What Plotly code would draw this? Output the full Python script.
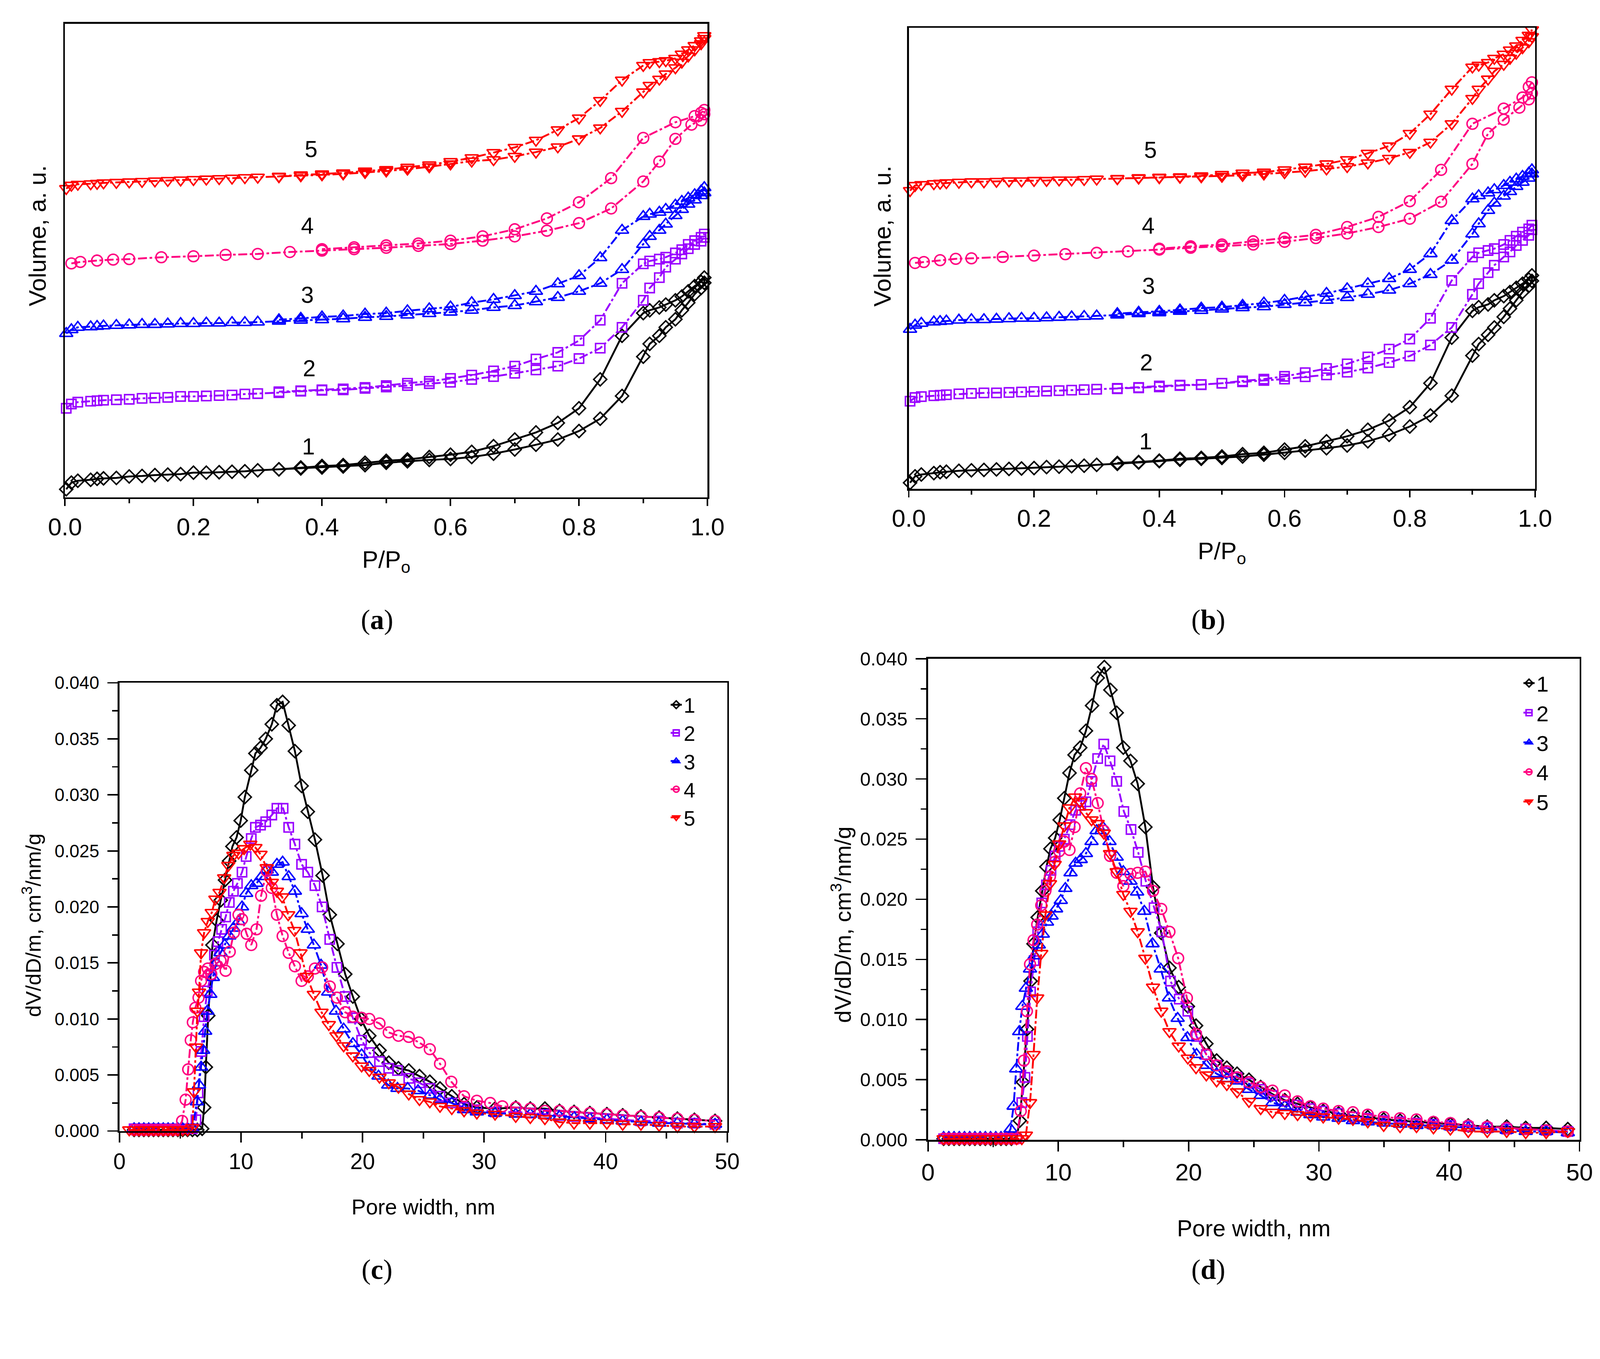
import plotly.graph_objects as go

# ---- (a), (b): N2 isotherms, relative pressure grids ----
P_ADS = [0.002, 0.01, 0.02, 0.04, 0.05, 0.06, 0.08, 0.10, 0.12, 0.14, 0.16, 0.18, 0.20, 0.22, 0.24,
	0.26, 0.28, 0.30, 0.333, 0.367, 0.40, 0.433, 0.467, 0.50, 0.533, 0.567, 0.60, 0.633, 0.667, 0.70,
	0.733, 0.767, 0.80, 0.833, 0.867, 0.90, 0.91, 0.925, 0.935, 0.95, 0.96, 0.97, 0.98, 0.99, 0.995]
P_DES = [0.995, 0.99, 0.98, 0.97, 0.96, 0.95, 0.935, 0.925, 0.91, 0.90, 0.867, 0.833, 0.80, 0.767,
	0.733, 0.70, 0.667, 0.633, 0.60, 0.567, 0.533, 0.50, 0.467, 0.433, 0.40, 0.367, 0.333]
P4_ADS = [0.01, 0.024, 0.05, 0.075, 0.10, 0.15, 0.20, 0.25, 0.30, 0.35, 0.40, 0.45, 0.50, 0.55, 0.60,
	0.65, 0.70, 0.75, 0.80, 0.85, 0.90, 0.925, 0.95, 0.975, 0.99, 0.995]
P4_DES = [0.995, 0.99, 0.98, 0.95, 0.90, 0.85, 0.80, 0.75, 0.70, 0.65, 0.60, 0.55, 0.50, 0.45, 0.40]

# panel (a), volume in arbitrary units (curves offset)
A1_ADS = [1.7, 3.1, 3.5, 3.7, 3.9, 4.0, 4.1, 4.4, 4.5, 4.7, 4.8, 4.9, 5.2, 5.2, 5.3, 5.4, 5.5, 5.7,
	5.9, 6.1, 6.3, 6.5, 6.8, 7.3, 7.6, 7.9, 8.1, 8.5, 9.2, 10.1, 11.1, 12.2, 14.0, 16.6, 21.4, 29.7,
	32.4, 34.1, 35.9, 37.6, 39.5, 41.1, 42.9, 44.2, 45.3]
A1_DES = [46.4, 45.5, 44.6, 43.5, 42.4, 41.6, 40.7, 40.1, 39.5, 38.9, 34.1, 24.9, 18.8, 15.7, 13.7,
	12.2, 10.8, 9.6, 9.0, 8.5, 8.0, 7.7, 7.3, 6.8, 6.6, 6.3, 5.9]
A2_ADS = [18.8, 19.7, 20.1, 20.3, 20.4, 20.5, 20.6, 20.7, 20.9, 21.0, 21.1, 21.3, 21.3, 21.4, 21.5,
	21.6, 21.8, 21.9, 22.1, 22.4, 22.6, 22.7, 23.0, 23.3, 23.6, 24.0, 24.3, 24.9, 25.5, 26.2, 26.9,
	27.7, 29.3, 31.5, 35.9, 41.6, 44.2, 46.4, 48.6, 50.3, 51.4, 52.5, 53.4, 54.1, 54.9]
A2_DES = [55.6, 54.9, 54.2, 53.4, 52.3, 51.6, 50.7, 50.3, 49.9, 49.3, 45.2, 37.4, 33.1, 30.6, 29.2,
	27.7, 26.7, 25.8, 25.1, 24.5, 24.1, 23.6, 23.2, 22.9, 22.7, 22.5, 22.3]
A3_ADS = [34.6, 35.4, 35.9, 36.0, 36.1, 36.2, 36.3, 36.4, 36.5, 36.5, 36.6, 36.7, 36.7, 36.8, 36.8,
	36.9, 36.9, 37.0, 37.2, 37.4, 37.5, 37.7, 38.0, 38.2, 38.5, 38.8, 39.1, 39.5, 40.1, 40.5, 41.3,
	42.2, 43.5, 45.2, 48.1, 53.4, 55.1, 56.4, 57.7, 59.5, 60.8, 61.9, 62.8, 63.7, 64.3]
A3_DES = [65.4, 64.7, 63.9, 63.2, 62.5, 61.7, 60.8, 60.2, 59.8, 59.3, 56.4, 50.6, 46.8, 45.1, 43.5,
	42.6, 41.8, 41.1, 40.2, 39.8, 39.4, 38.9, 38.7, 38.3, 38.1, 37.8, 37.5]
A4_ADS = [49.4, 49.7, 50.0, 50.2, 50.3, 50.7, 50.9, 51.2, 51.4, 51.8, 52.1, 52.4, 52.7, 53.1, 53.5,
	54.2, 55.1, 56.3, 57.9, 61.0, 66.7, 70.9, 75.7, 78.7, 79.6, 80.9]
A4_DES = [81.8, 81.2, 80.5, 79.2, 75.9, 67.4, 62.3, 58.9, 56.6, 55.1, 54.2, 53.6, 53.2, 52.8, 52.4]
A5_ADS = [65.2, 65.9, 66.1, 66.2, 66.3, 66.4, 66.5, 66.6, 66.7, 66.8, 66.9, 67.0, 67.1, 67.2, 67.3,
	67.4, 67.5, 67.6, 67.7, 67.9, 68.1, 68.3, 68.6, 68.9, 69.3, 69.8, 70.4, 71.0, 71.3, 72.0, 72.9,
	74.0, 75.7, 78.0, 81.5, 85.6, 87.0, 88.3, 89.4, 90.7, 91.9, 93.2, 94.5, 95.8, 96.9]
A5_DES = [97.5, 96.4, 95.4, 94.5, 93.6, 92.7, 92.2, 92.0, 91.8, 91.2, 88.1, 83.8, 80.1, 77.6, 75.4,
	73.9, 72.8, 71.7, 70.9, 70.2, 69.7, 69.2, 68.9, 68.5, 68.3, 68.1, 67.8]

# panel (b)
B1_ADS = [1.3, 2.7, 3.1, 3.4, 3.6, 3.7, 3.9, 4.0, 4.1, 4.2, 4.3, 4.4, 4.5, 4.7, 4.8, 4.9, 5.0, 5.2,
	5.4, 5.7, 6.0, 6.3, 6.5, 6.7, 7.0, 7.4, 7.8, 8.3, 8.8, 9.4, 10.3, 11.7, 13.5, 15.9, 20.2, 28.9,
	31.4, 33.4, 35.0, 37.3, 39.1, 40.9, 42.7, 44.0, 45.1]
B1_DES = [46.3, 45.4, 44.5, 43.6, 42.7, 41.8, 40.9, 40.0, 39.4, 38.6, 32.8, 22.9, 17.7, 14.8, 12.8,
	11.4, 10.3, 9.2, 8.5, 7.8, 7.5, 7.0, 6.7, 6.5, 6.1, 5.8, 5.6]
B2_ADS = [19.0, 19.8, 20.0, 20.2, 20.3, 20.4, 20.6, 20.7, 20.8, 20.8, 20.9, 21.0, 21.1, 21.2, 21.3,
	21.4, 21.5, 21.6, 21.7, 21.9, 22.1, 22.4, 22.6, 22.9, 23.2, 23.5, 23.8, 24.3, 24.7, 25.3, 26.2,
	27.4, 28.8, 31.2, 35.0, 42.2, 44.5, 46.9, 48.5, 50.3, 51.4, 52.8, 53.9, 55.0, 56.2]
B2_DES = [57.2, 56.4, 55.7, 54.8, 53.9, 53.0, 52.1, 51.7, 51.2, 50.3, 45.2, 37.0, 32.5, 30.3, 28.6,
	27.1, 26.1, 25.2, 24.4, 23.8, 23.4, 22.9, 22.6, 22.5, 22.3, 22.0, 21.8]
B3_ADS = [34.6, 35.5, 35.9, 36.2, 36.3, 36.4, 36.6, 36.7, 36.7, 36.8, 36.9, 37.0, 37.0, 37.1, 37.2,
	37.3, 37.4, 37.5, 37.7, 38.0, 38.2, 38.5, 38.7, 39.0, 39.3, 39.5, 40.0, 40.4, 40.9, 41.5, 42.2,
	43.1, 44.5, 46.5, 49.6, 55.3, 57.5, 60.4, 62.0, 63.5, 64.5, 65.6, 66.5, 67.4, 68.3]
B3_DES = [69.2, 68.5, 67.8, 67.2, 66.5, 65.8, 64.9, 64.2, 63.6, 62.9, 58.2, 51.0, 47.6, 45.6, 44.5,
	43.4, 42.4, 41.7, 40.9, 40.3, 39.8, 39.4, 39.2, 38.8, 38.5, 38.3, 38.0]
B4_ADS = [49.0, 49.2, 49.6, 49.9, 50.0, 50.3, 50.6, 50.9, 51.2, 51.5, 51.9, 52.3, 52.6, 53.0, 53.6,
	54.4, 55.4, 56.8, 58.6, 62.3, 70.5, 77.1, 80.1, 82.7, 84.5, 85.8]
B4_DES = [88.2, 87.2, 84.9, 82.5, 79.2, 69.2, 62.4, 59.0, 56.8, 55.1, 54.4, 53.7, 53.0, 52.6, 52.1]
B5_ADS = [64.7, 65.8, 66.0, 66.2, 66.3, 66.4, 66.5, 66.6, 66.6, 66.7, 66.8, 66.8, 66.9, 66.9, 67.0,
	67.0, 67.1, 67.2, 67.3, 67.4, 67.5, 67.6, 67.7, 67.8, 68.0, 68.3, 68.6, 68.9, 69.4, 69.9, 70.7,
	71.7, 73.0, 75.2, 79.2, 84.7, 86.7, 88.9, 90.6, 92.1, 93.4, 94.5, 95.7, 97.0, 98.1]
B5_DES = [99.6, 98.4, 97.3, 96.1, 95.2, 94.3, 93.4, 92.5, 91.9, 91.5, 86.7, 81.3, 77.1, 74.4, 72.8,
	71.4, 70.5, 69.8, 69.2, 68.7, 68.5, 68.2, 67.9, 67.7, 67.6, 67.5, 67.3]

# ---- (c), (d): pore size distributions, width in nm and dV/dD/m ----
C1_W = [1.2, 1.6, 2.0, 2.4, 2.8, 3.2, 3.6, 4.0, 4.4, 4.8, 5.2, 5.6, 6.0, 6.4, 6.8, 6.96, 7.1, 7.3,
	7.65, 7.99, 8.33, 8.68, 9.02, 9.29, 9.63, 9.97, 10.31, 10.84, 11.18, 11.60, 12.03, 12.53, 12.95,
	13.42, 13.92, 14.43, 14.98, 15.49, 16.08, 16.71, 17.30, 17.93, 18.57, 19.20, 19.87, 20.55, 21.39,
	22.15, 22.95, 23.80, 24.68, 25.53, 26.37, 27.34, 28.35, 29.4, 30.9, 32.6, 33.8, 35.0, 36.2, 37.4,
	38.7, 40.1, 41.4, 42.9, 44.4, 45.9, 47.3, 49.0]
C1_V = [0.0001, 0.0001, 0.0001, 0.0001, 0.0001, 0.0001, 0.0001, 0.0001, 0.0001, 0.0001, 0.0001,
	0.0001, 0.0001, 0.0001, 0.0002, 0.0021, 0.0057, 0.0103, 0.0166, 0.0188, 0.0206, 0.0224, 0.0241,
	0.0254, 0.0262, 0.0277, 0.0298, 0.0322, 0.0337, 0.0342, 0.0350, 0.0363, 0.0380, 0.0383, 0.0362,
	0.0339, 0.0308, 0.0285, 0.0260, 0.0228, 0.0193, 0.0167, 0.0140, 0.0120, 0.0100, 0.0085, 0.0072,
	0.0061, 0.0056, 0.0054, 0.0049, 0.0044, 0.0038, 0.0031, 0.0024, 0.0021, 0.0020, 0.0021, 0.0020,
	0.0020, 0.0018, 0.0017, 0.0016, 0.0015, 0.0014, 0.0013, 0.0012, 0.0011, 0.0010, 0.0009]
C2_W = [1.2, 1.6, 2.0, 2.4, 2.8, 3.2, 3.6, 4.0, 4.4, 4.8, 5.2, 5.6, 6.0, 6.29, 6.46, 6.71, 6.96,
	7.22, 7.51, 7.81, 8.10, 8.40, 8.73, 9.03, 9.37, 9.70, 10.08, 10.42, 10.84, 11.18, 11.60, 12.03,
	12.53, 12.95, 13.46, 13.92, 14.43, 14.98, 15.49, 16.08, 16.67, 17.30, 17.89, 18.57, 19.20, 19.92,
	20.55, 21.39, 22.15, 22.87, 23.80, 24.68, 25.53, 26.37, 27.34, 28.35, 29.4, 30.9, 32.6, 33.8,
	35.0, 36.2, 37.4, 38.7, 40.1, 41.4, 42.9, 44.4, 45.9, 47.3, 49.0]
C2_V = [0.0002, 0.0002, 0.0002, 0.0002, 0.0002, 0.0002, 0.0002, 0.0002, 0.0002, 0.0002, 0.0002,
	0.0002, 0.0002, 0.0010, 0.0034, 0.0071, 0.0102, 0.0125, 0.0139, 0.0157, 0.0169, 0.0180, 0.0191,
	0.0204, 0.0214, 0.0221, 0.0231, 0.0245, 0.0261, 0.0271, 0.0273, 0.0276, 0.0282, 0.0288, 0.0288,
	0.0271, 0.0256, 0.0238, 0.0231, 0.0219, 0.0200, 0.0171, 0.0146, 0.0120, 0.0101, 0.0081, 0.0070,
	0.0062, 0.0056, 0.0054, 0.0047, 0.0043, 0.0038, 0.0031, 0.0025, 0.0021, 0.0019, 0.0017, 0.0017,
	0.0016, 0.0015, 0.0014, 0.0013, 0.0012, 0.0011, 0.0010, 0.0009, 0.0009, 0.0007, 0.0007, 0.0006]
C3_W = [1.2, 1.6, 2.0, 2.4, 2.8, 3.2, 3.6, 4.0, 4.4, 4.8, 5.2, 5.6, 6.0, 6.37, 6.54, 6.71, 6.88,
	7.05, 7.22, 7.47, 7.68, 7.97, 8.31, 8.65, 9.03, 9.37, 9.79, 10.08, 10.42, 10.84, 11.27, 11.69,
	12.11, 12.53, 12.95, 13.42, 13.92, 14.43, 14.98, 15.49, 15.99, 16.58, 17.17, 17.81, 18.44, 19.20,
	19.92, 20.55, 21.31, 22.11, 22.87, 23.71, 24.56, 25.53, 26.37, 27.34, 28.35, 29.4, 30.9, 32.6,
	33.8, 35.0, 36.2, 37.4, 38.7, 40.1, 41.4, 42.9, 44.4, 45.9, 47.3, 49.0]
C3_V = [0.0002, 0.0002, 0.0002, 0.0002, 0.0002, 0.0002, 0.0002, 0.0002, 0.0002, 0.0002, 0.0002,
	0.0002, 0.0002, 0.0026, 0.0041, 0.0057, 0.0072, 0.0089, 0.0107, 0.0122, 0.0137, 0.0150, 0.0159,
	0.0166, 0.0174, 0.0181, 0.0187, 0.0200, 0.0212, 0.0219, 0.0221, 0.0227, 0.0233, 0.0231, 0.0238,
	0.0240, 0.0227, 0.0214, 0.0194, 0.0180, 0.0166, 0.0148, 0.0124, 0.0107, 0.0091, 0.0078, 0.0068,
	0.0057, 0.0049, 0.0041, 0.0038, 0.0038, 0.0036, 0.0032, 0.0028, 0.0025, 0.0019, 0.0017, 0.0016,
	0.0015, 0.0015, 0.0014, 0.0013, 0.0012, 0.0011, 0.0010, 0.0009, 0.0008, 0.0007, 0.0007, 0.0006,
	0.0006]
C4_W = [1.2, 1.6, 2.0, 2.4, 2.8, 3.2, 3.6, 4.0, 4.4, 4.8, 5.15, 5.44, 5.65, 5.86, 6.03, 6.24, 6.50,
	6.71, 6.96, 7.26, 7.55, 7.89, 8.31, 8.73, 9.07, 9.41, 9.79, 10.08, 10.46, 10.84, 11.27, 11.65,
	12.11, 12.53, 12.95, 13.42, 13.92, 14.43, 14.98, 15.49, 16.08, 16.67, 17.30, 17.89, 18.57, 19.20,
	19.92, 20.55, 21.39, 22.15, 22.95, 23.80, 24.64, 25.53, 26.37, 27.30, 28.35, 29.4, 30.5, 31.5,
	32.6, 33.8, 35.0, 36.2, 37.4, 38.7, 40.1, 41.4, 42.9, 44.4, 45.9, 47.3, 49.0]
C4_V = [0.0001, 0.0001, 0.0001, 0.0001, 0.0001, 0.0001, 0.0001, 0.0001, 0.0001, 0.0001, 0.0009,
	0.0028, 0.0055, 0.0081, 0.0097, 0.0110, 0.0119, 0.0134, 0.0142, 0.0145, 0.0140, 0.0149, 0.0152,
	0.0143, 0.0160, 0.0177, 0.0193, 0.0189, 0.0176, 0.0166, 0.0180, 0.0210, 0.0232, 0.0217, 0.0193,
	0.0174, 0.0159, 0.0147, 0.0134, 0.0138, 0.0145, 0.0146, 0.0129, 0.0119, 0.0106, 0.0102, 0.0101,
	0.0100, 0.0096, 0.0088, 0.0085, 0.0084, 0.0079, 0.0073, 0.0060, 0.0044, 0.0031, 0.0027, 0.0025,
	0.0022, 0.0021, 0.0020, 0.0018, 0.0018, 0.0017, 0.0016, 0.0015, 0.0014, 0.0013, 0.0012, 0.0011,
	0.0010, 0.0009]
C5_W = [0.8, 1.2, 1.6, 2.0, 2.4, 2.8, 3.2, 3.6, 4.0, 4.4, 4.8, 5.2, 5.6, 6.0, 6.12, 6.29, 6.41, 6.54,
	6.71, 6.96, 7.26, 7.59, 7.89, 8.23, 8.61, 8.95, 9.37, 9.79, 10.25, 10.76, 11.18, 11.60, 12.11,
	12.53, 12.95, 13.38, 13.88, 14.39, 14.89, 15.40, 15.99, 16.62, 17.22, 17.85, 18.44, 19.20, 19.92,
	20.55, 21.39, 22.15, 22.95, 23.80, 24.68, 25.53, 26.37, 27.34, 28.35, 29.4, 30.9, 32.6, 33.8,
	35.0, 36.2, 37.4, 38.7, 40.1, 41.4, 42.9, 44.4, 45.9, 47.3, 49.0]
C5_V = [0.0001, 0.0001, 0.0001, 0.0001, 0.0001, 0.0001, 0.0001, 0.0001, 0.0001, 0.0001, 0.0001,
	0.0001, 0.0001, 0.0003, 0.0035, 0.0075, 0.0107, 0.0124, 0.0159, 0.0177, 0.0187, 0.0195, 0.0207,
	0.0213, 0.0226, 0.0237, 0.0246, 0.0248, 0.0252, 0.0256, 0.0253, 0.0247, 0.0235, 0.0222, 0.0214,
	0.0209, 0.0193, 0.0179, 0.0159, 0.0138, 0.0122, 0.0106, 0.0095, 0.0085, 0.0076, 0.0067, 0.0058,
	0.0054, 0.0048, 0.0043, 0.0039, 0.0033, 0.0028, 0.0026, 0.0022, 0.0020, 0.0018, 0.0016, 0.0015,
	0.0013, 0.0012, 0.0011, 0.0008, 0.0007, 0.0007, 0.0007, 0.0006, 0.0006, 0.0005, 0.0004, 0.0004,
	0.0004]

D1_W = [1.2, 1.6, 2.0, 2.4, 2.8, 3.2, 3.6, 4.0, 4.4, 4.8, 5.2, 5.6, 6.0, 6.4, 6.8, 7.04, 7.28, 7.59,
	7.87, 8.10, 8.42, 8.77, 9.09, 9.40, 9.76, 10.11, 10.46, 10.86, 11.25, 11.68, 12.12, 12.59, 13.02,
	13.53, 14.0, 14.48, 14.99, 15.54, 16.09, 16.68, 17.27, 17.90, 18.53, 19.24, 19.94, 20.57, 21.36,
	22.15, 22.93, 23.72, 24.63, 25.53, 26.44, 27.38, 28.36, 29.35, 30.33, 31.51, 32.61, 33.75, 34.97,
	36.23, 37.49, 38.79, 40.09, 41.46, 42.92, 44.41, 45.87, 47.44, 49.10]
D1_V = [0.0001, 0.0001, 0.0001, 0.0001, 0.0001, 0.0001, 0.0001, 0.0001, 0.0001, 0.0001, 0.0001,
	0.0001, 0.0001, 0.0001, 0.0002, 0.0016, 0.0048, 0.0092, 0.0132, 0.0163, 0.0185, 0.0207, 0.0227,
	0.0242, 0.0251, 0.0266, 0.0284, 0.0305, 0.0320, 0.0326, 0.0340, 0.0361, 0.0384, 0.0393, 0.0374,
	0.0355, 0.0326, 0.0315, 0.0296, 0.0260, 0.0210, 0.0172, 0.0143, 0.0127, 0.0111, 0.0095, 0.0080,
	0.0066, 0.0060, 0.0055, 0.0050, 0.0044, 0.0038, 0.0033, 0.0030, 0.0027, 0.0024, 0.0022, 0.0020,
	0.0019, 0.0017, 0.0016, 0.0015, 0.0014, 0.0013, 0.0012, 0.0011, 0.0011, 0.0010, 0.0010, 0.0009]
D2_W = [1.2, 1.6, 2.0, 2.4, 2.8, 3.2, 3.6, 4.0, 4.4, 4.8, 5.2, 5.6, 6.0, 6.4, 6.8, 7.2, 7.44, 7.63,
	7.87, 8.14, 8.42, 8.73, 9.09, 9.44, 9.76, 10.07, 10.46, 10.90, 11.33, 11.72, 12.12, 12.55, 13.02,
	13.49, 13.97, 14.48, 15.03, 15.58, 16.13, 16.72, 17.35, 17.94, 18.61, 19.28, 19.94, 20.61, 21.36,
	22.15, 22.93, 23.72, 24.63, 25.53, 26.44, 27.38, 28.36, 29.35, 30.33, 31.51, 32.61, 33.75, 34.97,
	36.23, 37.49, 38.79, 40.09, 41.46, 42.92, 44.41, 45.87, 47.44, 49.10]
D2_V = [0.0001, 0.0001, 0.0001, 0.0001, 0.0001, 0.0001, 0.0001, 0.0001, 0.0001, 0.0001, 0.0001,
	0.0001, 0.0001, 0.0001, 0.0001, 0.0031, 0.0052, 0.0086, 0.0123, 0.0149, 0.0173, 0.0197, 0.0212,
	0.0224, 0.0236, 0.0244, 0.0250, 0.0262, 0.0274, 0.0278, 0.0281, 0.0298, 0.0317, 0.0329, 0.0315,
	0.0298, 0.0273, 0.0258, 0.0239, 0.0215, 0.0193, 0.0173, 0.0132, 0.0117, 0.0107, 0.0086, 0.0071,
	0.0062, 0.0056, 0.0052, 0.0047, 0.0042, 0.0037, 0.0032, 0.0029, 0.0026, 0.0024, 0.0022, 0.0019,
	0.0018, 0.0016, 0.0015, 0.0014, 0.0013, 0.0012, 0.0011, 0.0010, 0.0009, 0.0009, 0.0008, 0.0007]
D3_W = [1.2, 1.6, 2.0, 2.4, 2.8, 3.2, 3.6, 4.0, 4.4, 4.8, 5.2, 5.6, 6.0, 6.33, 6.57, 6.77, 7.0, 7.24,
	7.51, 7.83, 8.18, 8.50, 8.81, 9.13, 9.48, 9.83, 10.19, 10.54, 10.94, 11.33, 11.72, 12.12, 12.55,
	12.94, 13.41, 13.93, 14.48, 14.99, 15.54, 16.05, 16.60, 17.23, 17.86, 18.49, 19.16, 19.91, 20.61,
	21.36, 22.15, 22.93, 23.72, 24.63, 25.53, 26.44, 27.38, 28.36, 29.35, 30.33, 31.51, 32.61, 33.75,
	34.97, 36.23, 37.49, 38.79, 40.09, 41.46, 42.92, 44.41, 45.87, 47.44, 49.10]
D3_V = [0.0002, 0.0002, 0.0002, 0.0002, 0.0002, 0.0002, 0.0002, 0.0002, 0.0002, 0.0002, 0.0002,
	0.0002, 0.0002, 0.0009, 0.0028, 0.0059, 0.0090, 0.0111, 0.0126, 0.0142, 0.0153, 0.0162, 0.0171,
	0.0181, 0.0186, 0.0192, 0.0199, 0.0209, 0.0222, 0.0230, 0.0233, 0.0238, 0.0248, 0.0257, 0.0260,
	0.0248, 0.0235, 0.0223, 0.0215, 0.0206, 0.0190, 0.0163, 0.0142, 0.0118, 0.0101, 0.0085, 0.0071,
	0.0062, 0.0055, 0.0051, 0.0049, 0.0042, 0.0037, 0.0031, 0.0028, 0.0023, 0.0021, 0.0019, 0.0018,
	0.0016, 0.0015, 0.0014, 0.0013, 0.0012, 0.0012, 0.0011, 0.0010, 0.0009, 0.0008, 0.0007, 0.0007,
	0.0006]
D4_W = [1.2, 1.6, 2.0, 2.4, 2.8, 3.2, 3.6, 4.0, 4.4, 4.8, 5.2, 5.6, 6.0, 6.4, 6.8, 7.12, 7.36, 7.59,
	7.83, 8.10, 8.38, 8.69, 9.01, 9.36, 9.72, 10.07, 10.46, 10.86, 11.25, 11.68, 12.12, 12.55, 13.02,
	13.49, 13.97, 14.48, 14.99, 15.54, 16.09, 16.68, 17.27, 17.90, 18.53, 19.20, 19.87, 20.57, 21.36,
	22.15, 22.93, 23.72, 24.63, 25.53, 26.44, 27.38, 28.36, 29.35, 30.33, 31.51, 32.61, 33.75, 34.97,
	36.23, 37.49, 38.79, 40.09, 41.46, 42.92, 44.41, 45.87, 47.44, 49.10]
D4_V = [0.0001, 0.0001, 0.0001, 0.0001, 0.0001, 0.0001, 0.0001, 0.0001, 0.0001, 0.0001, 0.0001,
	0.0001, 0.0001, 0.0001, 0.0001, 0.0024, 0.0066, 0.0107, 0.0146, 0.0166, 0.0179, 0.0195, 0.0207,
	0.0219, 0.0231, 0.0240, 0.0248, 0.0241, 0.0260, 0.0288, 0.0309, 0.0300, 0.0280, 0.0257, 0.0236,
	0.0222, 0.0211, 0.0221, 0.0222, 0.0223, 0.0207, 0.0192, 0.0173, 0.0151, 0.0118, 0.0088, 0.0071,
	0.0062, 0.0057, 0.0052, 0.0048, 0.0044, 0.0041, 0.0037, 0.0032, 0.0028, 0.0026, 0.0024, 0.0023,
	0.0021, 0.0019, 0.0018, 0.0017, 0.0015, 0.0014, 0.0012, 0.0011, 0.0010, 0.0009, 0.0008, 0.0007]
D5_W = [1.2, 1.6, 2.0, 2.4, 2.8, 3.2, 3.6, 4.0, 4.4, 4.8, 5.2, 5.6, 6.0, 6.4, 6.8, 7.2, 7.51, 7.83,
	8.10, 8.38, 8.69, 9.01, 9.36, 9.72, 10.07, 10.46, 10.86, 11.29, 11.68, 12.12, 12.55, 13.02, 13.49,
	13.97, 14.48, 14.99, 15.54, 16.09, 16.68, 17.27, 17.90, 18.53, 19.24, 19.94, 20.57, 21.36, 22.15,
	22.93, 23.72, 24.63, 25.53, 26.44, 27.38, 28.36, 29.35, 30.33, 31.51, 32.61, 33.75, 34.97, 36.23,
	37.49, 38.79, 40.09, 41.46, 42.92, 44.41, 45.87, 47.44, 49.10]
D5_V = [0.0001, 0.0001, 0.0001, 0.0001, 0.0001, 0.0001, 0.0001, 0.0001, 0.0001, 0.0001, 0.0001,
	0.0001, 0.0001, 0.0001, 0.0001, 0.0001, 0.0004, 0.0031, 0.0071, 0.0118, 0.0155, 0.0187, 0.0213,
	0.0229, 0.0246, 0.0261, 0.0276, 0.0285, 0.0281, 0.0272, 0.0266, 0.0263, 0.0255, 0.0238, 0.0223,
	0.0204, 0.0190, 0.0173, 0.0151, 0.0127, 0.0107, 0.0090, 0.0078, 0.0068, 0.0060, 0.0054, 0.0049,
	0.0046, 0.0040, 0.0032, 0.0026, 0.0023, 0.0022, 0.0021, 0.0020, 0.0019, 0.0018, 0.0017, 0.0015,
	0.0012, 0.0011, 0.0011, 0.0010, 0.0009, 0.0007, 0.0007, 0.0007, 0.0006, 0.0006, 0.0007]

SAMPLES = ['1', '2', '3', '4', '5']

# styles
COLORS = ['#000000', '#9900ff', '#0000ff', '#ff0080', '#ff0000']
SYMBOLS = ['diamond-open', 'square-open', 'triangle-up-open', 'circle-open', 'triangle-down-open']
SIZES = [27, 25, 31, 29, 31]
DASHES = ['solid', '24px,7px,7px,7px', '24px,7px,7px,7px', '24px,7px,7px,7px', '24px,7px,7px,7px']

W, H = 4306, 3478


def add_curve(fig, x, y, i, xa, ya, legend=None):
	fig.add_trace(go.Scatter(
		x=x, y=y, xaxis=xa, yaxis=ya,
		mode='lines+markers',
		name=SAMPLES[i],
		showlegend=legend is not None,
		legend=legend or 'legend',
		cliponaxis=False,
		line=dict(color=COLORS[i], width=5, dash=DASHES[i]),
		marker=dict(symbol=SYMBOLS[i], size=SIZES[i], color=COLORS[i], line=dict(width=4, color=COLORS[i])),
		hoverinfo='skip'))


fig = go.Figure()

iso_a = [(A1_ADS, A1_DES), (A2_ADS, A2_DES), (A3_ADS, A3_DES), (A4_ADS, A4_DES), (A5_ADS, A5_DES)]
iso_b = [(B1_ADS, B1_DES), (B2_ADS, B2_DES), (B3_ADS, B3_DES), (B4_ADS, B4_DES), (B5_ADS, B5_DES)]
for i in range(5):
	if i == 3:
		px = P4_ADS + P4_DES
	else:
		px = P_ADS + P_DES
	add_curve(fig, px, iso_a[i][0] + iso_a[i][1], i, 'x', 'y')
	add_curve(fig, px, iso_b[i][0] + iso_b[i][1], i, 'x2', 'y2')

psd_c = [(C1_W, C1_V), (C2_W, C2_V), (C3_W, C3_V), (C4_W, C4_V), (C5_W, C5_V)]
psd_d = [(D1_W, D1_V), (D2_W, D2_V), (D3_W, D3_V), (D4_W, D4_V), (D5_W, D5_V)]
for i in range(5):
	add_curve(fig, psd_c[i][0], psd_c[i][1], i, 'x3', 'y3', legend='legend')
	add_curve(fig, psd_d[i][0], psd_d[i][1], i, 'x4', 'y4', legend='legend2')

FONT = 'Liberation Sans, Arial, sans-serif'


def frame(**kw):
	d = dict(showline=True, linecolor='black', linewidth=5, mirror=True, showgrid=False,
		zeroline=False, ticks='outside', tickcolor='black', tickwidth=4, automargin=False)
	d.update(kw)
	return d


def iso_x(domain, anchor):
	return frame(domain=domain, anchor=anchor, range=[0, 1], dtick=0.2, tickformat='.1f', ticklen=18,
		minor=dict(dtick=0.1, ticks='outside', ticklen=11, tickwidth=4, tickcolor='black'),
		tickfont=dict(family=FONT, size=66, color='black'),
		title=dict(text='P/P<sub>o</sub>', font=dict(family=FONT, size=65, color='black'), standoff=30))


def iso_y(domain, anchor):
	return frame(domain=domain, anchor=anchor, range=[0, 100], ticks='', showticklabels=False)


def psd_x(domain, anchor, fsize, tsize, standoff):
	return frame(domain=domain, anchor=anchor, range=[0, 50], dtick=10, ticklen=26,
		minor=dict(dtick=5, ticks='outside', ticklen=15, tickwidth=4, tickcolor='black'),
		tickfont=dict(family=FONT, size=fsize, color='black'),
		title=dict(text='Pore width, nm', font=dict(family=FONT, size=tsize, color='black'), standoff=standoff))


def psd_y(domain, anchor, fsize):
	return frame(domain=domain, anchor=anchor, range=[0, 0.04], dtick=0.005, tickformat='.3f', ticklen=28,
		ticklabelstandoff=12,
		minor=dict(dtick=0.0025, ticks='outside', ticklen=15, tickwidth=4, tickcolor='black'),
		tickfont=dict(family=FONT, size=fsize, color='black'))


fig.update_layout(
	width=W, height=H,
	margin=dict(l=0, r=0, t=0, b=0),
	paper_bgcolor='white', plot_bgcolor='white',
	font=dict(family=FONT, color='black'),
	xaxis=iso_x([0.0406, 0.4422], 'y'),
	yaxis=iso_y([0.6153, 0.9816], 'x'),
	xaxis2=iso_x([0.568, 0.9594], 'y2'),
	yaxis2=iso_y([0.6219, 0.9784], 'x2'),
	xaxis3=psd_x([0.0747, 0.4545], 'y3', 60, 58, 70),
	yaxis3=psd_y([0.1251, 0.4718], 'x3', 48),
	xaxis4=psd_x([0.580, 0.9872], 'y4', 65, 62, 95),
	yaxis4=psd_y([0.1182, 0.4905], 'x4', 51),
	legend=dict(x=0.418, y=0.4672, xanchor='left', yanchor='top', bgcolor='rgba(0,0,0,0)',
		font=dict(family=FONT, size=56, color='black'), tracegroupgap=0),
	legend2=dict(x=0.951, y=0.4845, xanchor='left', yanchor='top', bgcolor='rgba(0,0,0,0)',
		font=dict(family=FONT, size=59, color='black'), tracegroupgap=0),
)

notes = []

# y-axis titles (placed off-centre, as in the original figure)
for text, px, py, size in [('Volume, a. u.', 0.0232, 0.8177, 65), ('Volume, a. u.', 0.5513, 0.8174, 65),
		('dV/dD/m, cm<sup>3</sup>/nm/g', 0.0200, 0.2843, 57), ('dV/dD/m, cm<sup>3</sup>/nm/g', 0.5258, 0.2846, 61)]:
	notes.append(dict(x=px, y=py, xref='paper', yref='paper', text=text, textangle=-90, showarrow=False,
		xanchor='center', yanchor='middle', font=dict(family=FONT, size=size, color='black')))

# curve numbers next to the isotherms
for xa, ya, xs, ys in [('x', 'y', [0.379, 0.38, 0.377, 0.377, 0.383], [10.7, 27.3, 42.7, 57.3, 73.5]),
		('x2', 'y2', [0.378, 0.379, 0.383, 0.382, 0.386], [10.3, 27.4, 44.0, 57.1, 73.5])]:
	for k in range(5):
		notes.append(dict(x=xs[k], y=ys[k], xref=xa, yref=ya, text=SAMPLES[k], showarrow=False,
			xanchor='center', yanchor='middle', font=dict(family=FONT, size=62, color='black')))

# panel letters
for txt, px, py in [('a', 0.2357, 0.5205), ('b', 0.7552, 0.5205), ('c', 0.2355, 0.0181), ('d', 0.7552, 0.0181)]:
	notes.append(dict(x=px, y=py, xref='paper', yref='paper', text=f'(<b>{txt}</b>)', showarrow=False,
		xanchor='center', yanchor='middle',
		font=dict(family='Liberation Serif, Times New Roman, serif', size=75, color='black')))

fig.update_layout(annotations=notes)

# fit the fixed-size figure into whatever viewport the page gets
fit_js = (
	"var gd = document.getElementById('{plot_id}');"
	"document.body.style.margin = '0';"
	"document.body.style.overflow = 'hidden';"
	"var s = Math.min(window.innerWidth / %d, window.innerHeight / %d);"
	"gd.style.transformOrigin = '0 0';"
	"gd.style.transform = 'scale(' + s + ')';" % (W, H))

fig.write_html("out.html", post_script=fit_js, config={'displayModeBar': False})
